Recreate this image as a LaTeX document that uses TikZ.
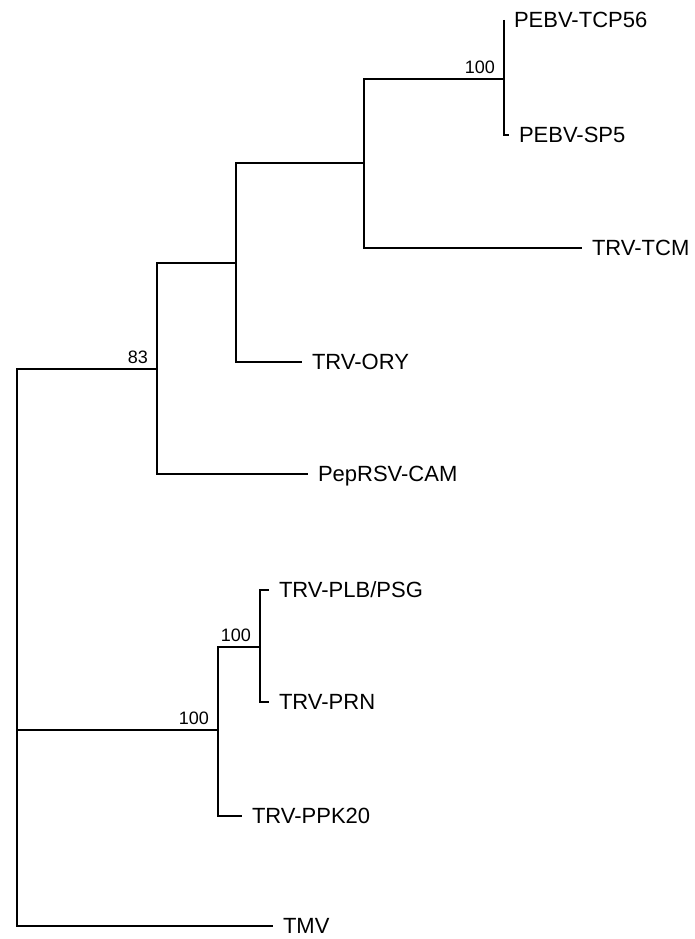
\documentclass[tikz,border=0pt]{standalone}
\usepackage{fontspec}
\setmainfont{Liberation Sans}
\usetikzlibrary{positioning}

\begin{document}
\begin{tikzpicture}[
  x=1pt, y=-1pt,
  line width=2pt,
  leaf/.style={inner sep=0pt, text height=15.7pt, text depth=0pt, font=\fontsize{22}{26}\selectfont},
  boot/.style={inner sep=0pt, font=\fontsize{18}{21}\selectfont},
  branch/.style={draw=black, line width=2pt}
]
  \useasboundingbox (0,0) rectangle (694,939);

  % internal nodes (junctions)
  \coordinate (root) at (17,730);
  \coordinate (n83)  at (157,369);
  \coordinate (nORY) at (236,263);
  \coordinate (nTCM) at (364,163);
  \coordinate (nPE)  at (504,79);
  \coordinate (nPPK) at (218,730);
  \coordinate (nPRN) at (260,647);

  % tips
  \coordinate (tTCP) at (504,20);
  \coordinate (tSP5) at (509,135);
  \coordinate (tTCM) at (582,248);
  \coordinate (tORY) at (302,362);
  \coordinate (tCAM) at (308,474);
  \coordinate (tPLB) at (269,590);
  \coordinate (tPRN) at (269,702);
  \coordinate (tPPK) at (242,816);
  \coordinate (tTMV) at (273,926);

  % branches
  \draw[branch] (tTCP) -| (nPE) |- (tSP5);
  \draw[branch] (nPE) -| (nTCM) |- (tTCM);
  \draw[branch] (nTCM) -| (nORY) |- (tORY);
  \draw[branch] (nORY) -| (n83) |- (tCAM);
  \draw[branch] (n83) -| (root) |- (tTMV);
  \draw[branch] (root) -- (nPPK);
  \draw[branch] (nPRN) -| (nPPK) |- (tPPK);
  \draw[branch] (tPLB) -| (nPRN) |- (tPRN);

  % taxa
  \node[leaf, right=9pt of tTCP] (lTCP) {PEBV-TCP56};
  \node[leaf, right=9pt of tSP5] (lSP5) {PEBV-SP5};
  \node[leaf, right=9pt of tTCM] (lTCM) {TRV-TCM};
  \node[leaf, right=9pt of tORY] (lORY) {TRV-ORY};
  \node[leaf, right=9pt of tCAM] (lCAM) {PepRSV-CAM};
  \node[leaf, right=9pt of tPLB] (lPLB) {TRV-PLB/PSG};
  \node[leaf, right=9pt of tPRN] (lPRN) {TRV-PRN};
  \node[leaf, right=9pt of tPPK] (lPPK) {TRV-PPK20};
  \node[leaf, right=9pt of tTMV] (lTMV) {TMV};

  % bootstrap values
  \node[boot, above left=4pt and 8pt of nPE]  (bPE)  {100};
  \node[boot, above left=4pt and 8pt of n83]  (b83)  {83};
  \node[boot, above left=4pt and 8pt of nPRN] (bPRN) {100};
  \node[boot, above left=4pt and 8pt of nPPK] (bPPK) {100};
\end{tikzpicture}
\end{document}
